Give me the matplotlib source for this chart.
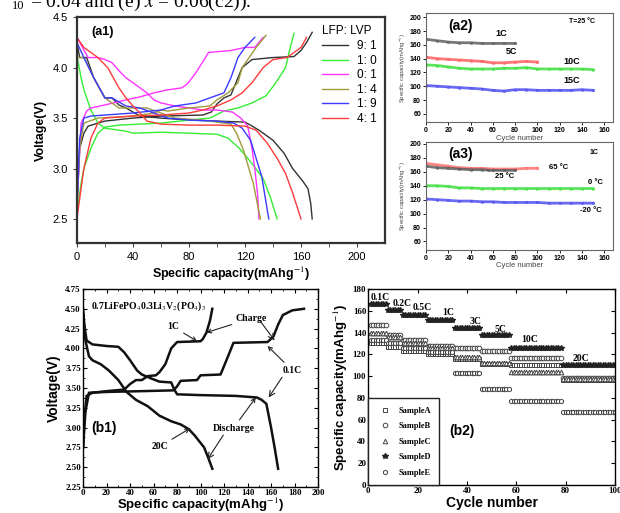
import matplotlib.pyplot as plt
import numpy as np

plt.rcParams['font.family'] = ['Liberation Sans', 'DejaVu Sans']
plt.rcParams['mathtext.fontset'] = 'stix'

SERIF = 'Liberation Serif'

# ---------------- (a1) charge/discharge curves, LFP:LVP ratios ----------------
a1_labels = ['9: 1', '1: 0', '0: 1', '1: 4', '1: 9', '4: 1']
a1_colors = ['#333333', '#33ee33', '#ff33ff', '#a09a3c', '#3a3aff', '#ff3a3a']

chg_91 = ([0, 2, 5, 8, 20, 40, 60, 90, 96, 100, 105, 110, 118, 125, 140, 155, 160, 164, 168],
          [2.6, 3.2, 3.35, 3.42, 3.47, 3.5, 3.52, 3.53, 3.56, 3.64, 3.7, 3.73, 4.0, 4.08, 4.1, 4.11, 4.17, 4.25, 4.35])
dis_91 = ([0, 2, 7, 12, 20, 25, 30, 35, 45, 60, 80, 100, 120, 124, 130, 140, 148, 154, 161, 165, 167, 168],
          [4.25, 4.1, 4.1, 3.9, 3.7, 3.7, 3.63, 3.6, 3.52, 3.5, 3.48, 3.47, 3.46, 3.43, 3.38, 3.28, 3.15, 3.0, 2.88, 2.8, 2.65, 2.5])
chg_10 = ([0, 3, 5, 10, 15, 20, 30, 60, 80, 95, 105, 115, 125, 135, 142, 149, 152, 155],
          [2.55, 2.85, 3.0, 3.2, 3.35, 3.41, 3.43, 3.45, 3.48, 3.5, 3.57, 3.6, 3.65, 3.72, 3.85, 4.0, 4.18, 4.34])
dis_10 = ([0, 3, 5, 10, 15, 20, 35, 40, 60, 80, 100, 108, 116, 125, 133, 138, 143],
          [4.12, 3.9, 3.78, 3.58, 3.45, 3.4, 3.37, 3.35, 3.36, 3.35, 3.34, 3.3, 3.2, 3.05, 2.9, 2.72, 2.5])
chg_01 = ([0, 3, 7, 10, 20, 35, 45, 55, 65, 75, 79, 85, 90, 94, 110, 120, 127, 133],
          [2.6, 3.45, 3.57, 3.6, 3.63, 3.68, 3.71, 3.75, 3.78, 3.8, 3.84, 3.95, 4.06, 4.15, 4.17, 4.2, 4.2, 4.3])
dis_01 = ([0, 8, 15, 20, 25, 30, 35, 40, 45, 50, 55, 60, 70, 80, 90, 100, 111, 117, 122, 125, 127, 129, 130],
          [4.3, 4.1, 4.1, 4.08, 4.05, 3.97, 3.9, 3.85, 3.8, 3.75, 3.68, 3.65, 3.62, 3.6, 3.58, 3.58, 3.56, 3.5, 3.42, 3.2, 3.0, 2.75, 2.5])
chg_14 = ([0, 2, 5, 15, 40, 55, 60, 65, 80, 95, 100, 108, 115, 118, 123, 128, 135],
          [2.6, 3.2, 3.45, 3.5, 3.52, 3.55, 3.58, 3.57, 3.6, 3.62, 3.68, 3.75, 3.85, 4.0, 4.1, 4.2, 4.32])
dis_14 = ([0, 5, 12, 20, 30, 50, 60, 70, 90, 110, 114, 119, 126, 131],
          [4.1, 4.1, 3.9, 3.7, 3.6, 3.6, 3.55, 3.5, 3.48, 3.44, 3.35, 3.18, 2.85, 2.5])
chg_19 = ([0, 2, 5, 10, 20, 40, 60, 70, 85, 95, 105, 110, 115, 120, 127],
          [2.6, 3.3, 3.5, 3.52, 3.53, 3.55, 3.58, 3.62, 3.65, 3.7, 3.75, 3.9, 4.1, 4.2, 4.3])
dis_19 = ([0, 5, 12, 20, 25, 35, 45, 55, 65, 80, 100, 112, 118, 124, 132, 137],
          [4.25, 4.1, 3.9, 3.7, 3.7, 3.62, 3.6, 3.55, 3.5, 3.48, 3.47, 3.45, 3.4, 3.28, 2.92, 2.5])
chg_41 = ([0, 5, 10, 15, 20, 40, 60, 80, 90, 100, 110, 118, 125, 133, 140, 150, 155, 160, 164],
          [2.5, 3.0, 3.3, 3.45, 3.5, 3.52, 3.53, 3.55, 3.58, 3.62, 3.68, 3.75, 3.85, 4.0, 4.08, 4.1, 4.15, 4.2, 4.3])
dis_41 = ([0, 5, 15, 22, 30, 35, 40, 45, 50, 60, 80, 100, 120, 128, 136, 143, 149, 154, 160],
          [4.3, 4.2, 4.1, 4.0, 3.8, 3.7, 3.62, 3.55, 3.47, 3.44, 3.43, 3.43, 3.42, 3.38, 3.25, 3.1, 2.95, 2.76, 2.5])
a1_curves = [(chg_91, dis_91), (chg_10, dis_10), (chg_01, dis_01),
             (chg_14, dis_14), (chg_19, dis_19), (chg_41, dis_41)]

# ---------------- (a2) cycling at different rates, 25 C ----------------
a2_cyc_1c = [0, 10, 20, 30, 40, 50, 60, 70, 80]
a2_1c = [168, 166, 164, 163, 163, 162, 162, 162, 162]
a2_cyc_5c = [0, 10, 20, 30, 40, 50, 60, 70, 80, 90, 100]
a2_5c = [142, 140, 139, 138, 137, 136, 134, 134, 135, 136, 135]
a2_cyc_long = [0, 10, 20, 30, 40, 50, 60, 70, 80, 90, 100, 110, 120, 130, 140, 150]
a2_10c = [131, 130, 128, 126, 125, 125, 125, 126, 126, 127, 125, 125, 125, 125, 125, 124]
a2_15c = [101, 100, 99, 98, 97, 96, 94, 93, 95, 95, 94, 94, 94, 94, 95, 94]

# ---------------- (a3) cycling at 1C, different temperatures ----------------
a3_cyc_65 = [0, 10, 20, 30, 40, 50, 60, 70, 80, 90, 100]
a3_65 = [172, 170, 168, 166, 165, 165, 164, 164, 164, 165, 165]
a3_cyc_25 = [0, 10, 20, 30, 40, 50, 60, 70, 80]
a3_25 = [168, 166, 165, 164, 163, 163, 162, 162, 162]
a3_cyc_long = [0, 10, 20, 30, 40, 50, 60, 70, 80, 90, 100, 110, 120, 130, 140, 150]
a3_0 = [140, 140, 139, 137, 137, 136, 136, 136, 136, 136, 136, 136, 136, 136, 136, 136]
a3_m20 = [121, 120, 119, 118, 118, 117, 117, 116, 116, 116, 116, 115, 115, 115, 115, 115]

# ---------------- (b1) 0.7LFP-0.3LVP curves ----------------
b1_chg01 = ([0, 2, 5, 20, 50, 77, 80, 83, 97, 100, 117, 122, 128, 157, 162, 166, 170, 178, 188],
            [2.75, 3.2, 3.44, 3.45, 3.46, 3.47, 3.52, 3.59, 3.6, 3.66, 3.67, 3.85, 4.07, 4.08, 4.15, 4.3, 4.42, 4.48, 4.5])
b1_dis01 = ([0, 1, 3, 8, 20, 30, 35, 40, 46, 50, 58, 65, 75, 77, 80, 100, 130, 148, 152, 156, 160, 163, 166],
            [4.5, 4.3, 4.1, 4.05, 4.03, 4.02, 3.95, 3.85, 3.72, 3.67, 3.62, 3.58, 3.57, 3.5, 3.42, 3.41, 3.4, 3.38, 3.35, 3.3, 3.0, 2.75, 2.48])
b1_chg1 = ([0, 1, 3, 8, 20, 35, 40, 45, 50, 55, 62, 65, 70, 75, 80, 100, 102, 105, 108, 110],
           [2.75, 3.1, 3.4, 3.44, 3.46, 3.48, 3.55, 3.6, 3.6, 3.65, 3.66, 3.7, 3.8, 4.0, 4.08, 4.09, 4.12, 4.2, 4.35, 4.5])
b1_dis20 = ([0, 2, 5, 8, 15, 22, 30, 37, 45, 55, 65, 75, 83, 90, 95, 103, 107, 110],
            [4.45, 4.1, 3.9, 3.85, 3.8, 3.72, 3.6, 3.45, 3.35, 3.27, 3.15, 3.08, 3.04, 2.98, 2.9, 2.75, 2.6, 2.48])

# ---------------- (b2) rate capability of samples A-E ----------------
b2_rates = ['0.1C', '0.2C', '0.5C', '1C', '3C', '5C', '10C', '20C']
b2_seg_start = [1, 8, 14, 24, 35, 46, 58, 79]
b2_seg_end = [7, 13, 23, 34, 45, 57, 78, 100]
b2_names = ['SampleA', 'SampleB', 'SampleC', 'SampleD', 'SampleE']
b2_A = [130, 127, 123, 120, 116, 111, 110, 96]
b2_B = [147, 138, 133, 128, 126, 123, 117, 98]
b2_C = [140, 136, 130, 126, 118, 112, 104, 97]
b2_D = [166, 161, 156, 152, 144, 138, 126, 110]
b2_E = [133, 130, 126, 122, 103, 88, 77, 67]

fig = plt.figure(figsize=(6.2, 5.13), dpi=100)

# caption fragment at top (clipped)
fig.text(0.019, 1 - 9 / 513, '10', family=SERIF, fontsize=9)
fig.text(0.048, 1 - 7 / 513, '= 0.04 and (e) $x$ = 0.06(c2)).', family=SERIF, fontsize=14)

# ---- a1 ----
ax = fig.add_axes([0.124, 0.526, 0.497, 0.4405])
for (chg, dis), c, lab in zip(a1_curves, a1_colors, a1_labels):
    ax.plot(chg[0], chg[1], color=c, lw=1.0, label=lab)
    ax.plot(dis[0], dis[1], color=c, lw=1.0)
ax.set_xlim(0, 220)
ax.set_ylim(2.26, 4.5)
ax.set_xticks([0, 40, 80, 120, 160, 200])
ax.set_xticks(np.arange(20, 220, 40), minor=True)
ax.set_yticks([2.5, 3.0, 3.5, 4.0, 4.5])
ax.tick_params(labelsize=8, length=3, color='#444444')
ax.tick_params(which='minor', length=3, color='#444444')
for s in ax.spines.values():
    s.set_linewidth(1.6)
    s.set_color('#333333')
ax.set_xlabel('Specific capacity(mAhg$^{-1}$)', fontsize=9, fontweight='bold', labelpad=2)
ax.set_ylabel('Voltage(V)', fontsize=9, fontweight='bold', labelpad=4)
ax.text(10, 4.35, '(a1)', fontsize=9, fontweight='bold', va='center')
leg = ax.legend(title='LFP: LVP', loc='upper right', frameon=False, fontsize=8.5,
                title_fontsize=8.5, handlelength=2.2, labelspacing=0.22,
                borderaxespad=0.3, alignment='left')

# ---- a2 ----
def small_cycle_axes(rect, ylim):
    a = fig.add_axes(rect)
    a.set_xlim(0, 168)
    a.set_ylim(*ylim)
    a.set_xticks(np.arange(0, 161, 20))
    a.set_yticks(np.arange(60, 201, 20))
    a.tick_params(labelsize=5, length=2, width=0.6, pad=1.5)
    for lab in a.get_xticklabels() + a.get_yticklabels():
        lab.set_fontweight('bold')
    for s in a.spines.values():
        s.set_linewidth(0.8)
        s.set_color('#666666')
    a.set_xlabel('Cycle number', fontsize=5.5, labelpad=0.5, color='#444444')
    a.set_ylabel('Specific capacity(mAhg$^{-1}$)', fontsize=4.2, labelpad=1, color='#444444')
    return a

ax2 = small_cycle_axes([0.687, 0.762, 0.302, 0.2125], (48, 206))
kw = dict(lw=2.0, marker='o', ms=1.6, mfc='none', mew=0.5, alpha=0.8)
ax2.plot(a2_cyc_1c, a2_1c, color='#555555', **kw)
ax2.plot(a2_cyc_5c, a2_5c, color='#ff5555', **kw)
ax2.plot(a2_cyc_long, a2_10c, color='#33dd33', **kw)
ax2.plot(a2_cyc_long, a2_15c, color='#4444ee', **kw)
ax2.text(20, 188, '(a2)', fontsize=10, fontweight='bold', va='center')
ax2.text(128, 194, 'T=25 °C', fontsize=5, fontweight='bold', va='center')
ax2.text(62, 176, '1C', fontsize=6.5, fontweight='bold', va='center')
ax2.text(72, 150, '5C', fontsize=6.5, fontweight='bold', va='center')
ax2.text(123, 136, '10C', fontsize=6.5, fontweight='bold', va='center')
ax2.text(123, 108, '15C', fontsize=6.5, fontweight='bold', va='center')

# ---- a3 ----
ax3 = small_cycle_axes([0.687, 0.513, 0.302, 0.2105], (48, 203))
ax3.plot(a3_cyc_65, a3_65, color='#ff6666', **kw)
ax3.plot(a3_cyc_25, a3_25, color='#555555', **kw)
ax3.plot(a3_cyc_long, a3_0, color='#33dd33', **kw)
ax3.plot(a3_cyc_long, a3_m20, color='#4444ee', **kw)
ax3.text(20, 185, '(a3)', fontsize=10, fontweight='bold', va='center')
ax3.text(147, 187, '1C', fontsize=5, fontweight='bold', va='center')
ax3.text(110, 166, '65 °C', fontsize=5.5, fontweight='bold', va='center')
ax3.annotate('25 °C', xy=(55, 162), xytext=(62, 153), fontsize=5.5, fontweight='bold',
             va='center', arrowprops=dict(arrowstyle='-', lw=0.6, color='#333333'))
ax3.text(145, 144, '0 °C', fontsize=5.5, fontweight='bold', va='center')
ax3.text(138, 105, '-20 °C', fontsize=5.5, fontweight='bold', va='center')

# ---- b1 ----
bx = fig.add_axes([0.134, 0.0507, 0.379, 0.386])
for cur in (b1_chg01, b1_dis01, b1_chg1, b1_dis20):
    bx.plot(cur[0], cur[1], color='#111111', lw=1.8)
bx.set_xlim(0, 200)
bx.set_ylim(2.25, 4.75)
bx.set_xticks(np.arange(0, 201, 20))
bx.set_xticks(np.arange(0, 201, 10), minor=True)
bx.set_yticks(np.arange(2.25, 4.76, 0.25))
bx.set_yticks(np.arange(2.25, 4.76, 0.125), minor=True)
bx.set_yticklabels(['%.2f' % v for v in np.arange(2.25, 4.76, 0.25)])
bx.tick_params(which='both', direction='in', top=True, right=True, labelsize=6.5, pad=1.5)
bx.tick_params(which='major', length=3)
bx.tick_params(which='minor', length=1.5)
for lab in bx.get_xticklabels() + bx.get_yticklabels():
    lab.set_family(SERIF)
    lab.set_fontweight('bold')
for s in bx.spines.values():
    s.set_linewidth(1.0)
bx.set_xlabel('Specific capacity(mAhg$^{-1}$)', fontsize=9.5, fontweight='bold', labelpad=-0.5)
bx.set_ylabel('Voltage(V)', fontsize=10, fontweight='bold', labelpad=3)
tkw = dict(family=SERIF, fontweight='bold', fontsize=7)
akw = dict(arrowstyle='->', lw=0.8, color='#222222', shrinkA=1, shrinkB=0)
bx.text(7, 4.53, '0.7LiFePO$_4$0.3Li$_3$V$_2$(PO$_4$)$_3$', va='center', **tkw)
bx.annotate('Charge', xy=(105, 4.2), xytext=(130, 4.38), va='center', arrowprops=akw, **tkw)
bx.annotate('', xy=(163, 4.1), xytext=(150, 4.36), arrowprops=akw)
bx.annotate('1C', xy=(97, 4.09), xytext=(72, 4.27), va='center', arrowprops=akw, **tkw)
bx.annotate('0.1C', xy=(157, 4.03), xytext=(170, 3.72), va='center', arrowprops=akw, **tkw)
bx.annotate('', xy=(158, 3.38), xytext=(170, 3.65), arrowprops=akw)
bx.annotate('Discharge', xy=(147, 3.38), xytext=(110, 2.99), va='center', arrowprops=akw, **tkw)
bx.annotate('', xy=(106, 2.6), xytext=(120, 2.92), arrowprops=akw)
bx.annotate('20C', xy=(91, 2.99), xytext=(58, 2.76), va='center', arrowprops=akw, **tkw)
bx.text(7, 3.0, '(b1)', fontsize=10, fontweight='bold', va='center')

# ---- b2 ----
cx = fig.add_axes([0.594, 0.0546, 0.398, 0.382])
markers = ['s', 'o', '^', '*', 'h']
for name, levels, m in zip(b2_names, [b2_A, b2_B, b2_C, b2_D, b2_E], markers):
    cyc = np.concatenate([np.arange(s, e + 1) for s, e in zip(b2_seg_start, b2_seg_end)])
    cap = np.concatenate([np.full(e - s + 1, v) for s, e, v in zip(b2_seg_start, b2_seg_end, levels)])
    if m == '*':
        cx.plot(cyc, cap, ls='none', marker=m, ms=4, color='#222222', label=name)
    else:
        cx.plot(cyc, cap, ls='none', marker=m, ms=3.3, mfc='white', mec='#444444',
                mew=0.7, label=name)
cx.set_xlim(0, 100)
cx.set_ylim(0, 180)
cx.set_xticks(np.arange(0, 101, 20))
cx.set_yticks(np.arange(0, 181, 20))
cx.tick_params(direction='in', top=True, right=True, labelsize=6.5, length=3, pad=1.5)
for lab in cx.get_xticklabels() + cx.get_yticklabels():
    lab.set_family(SERIF)
    lab.set_fontweight('bold')
for s in cx.spines.values():
    s.set_linewidth(1.0)
cx.set_xlabel('Cycle number', fontsize=10, fontweight='bold', labelpad=1)
cx.set_ylabel('Specific capacity(mAhg$^{-1}$)', fontsize=9.5, fontweight='bold', labelpad=2)
rate_pos = [(1, 172), (10, 167), (18, 163), (30, 158), (41, 150), (51, 143), (62, 134), (83, 116)]
for r, (x, y) in zip(b2_rates, rate_pos):
    cx.text(x, y, r, va='center', **tkw)
cx.legend(loc='lower left', prop={'family': SERIF, 'weight': 'bold', 'size': 6},
          fancybox=False, edgecolor='#222222', framealpha=1, borderaxespad=0,
          handletextpad=0.6, labelspacing=0.9, borderpad=1.0)
cx.text(33, 50, '(b2)', fontsize=10, fontweight='bold', va='center')

fig.savefig('out.png', dpi=100)
